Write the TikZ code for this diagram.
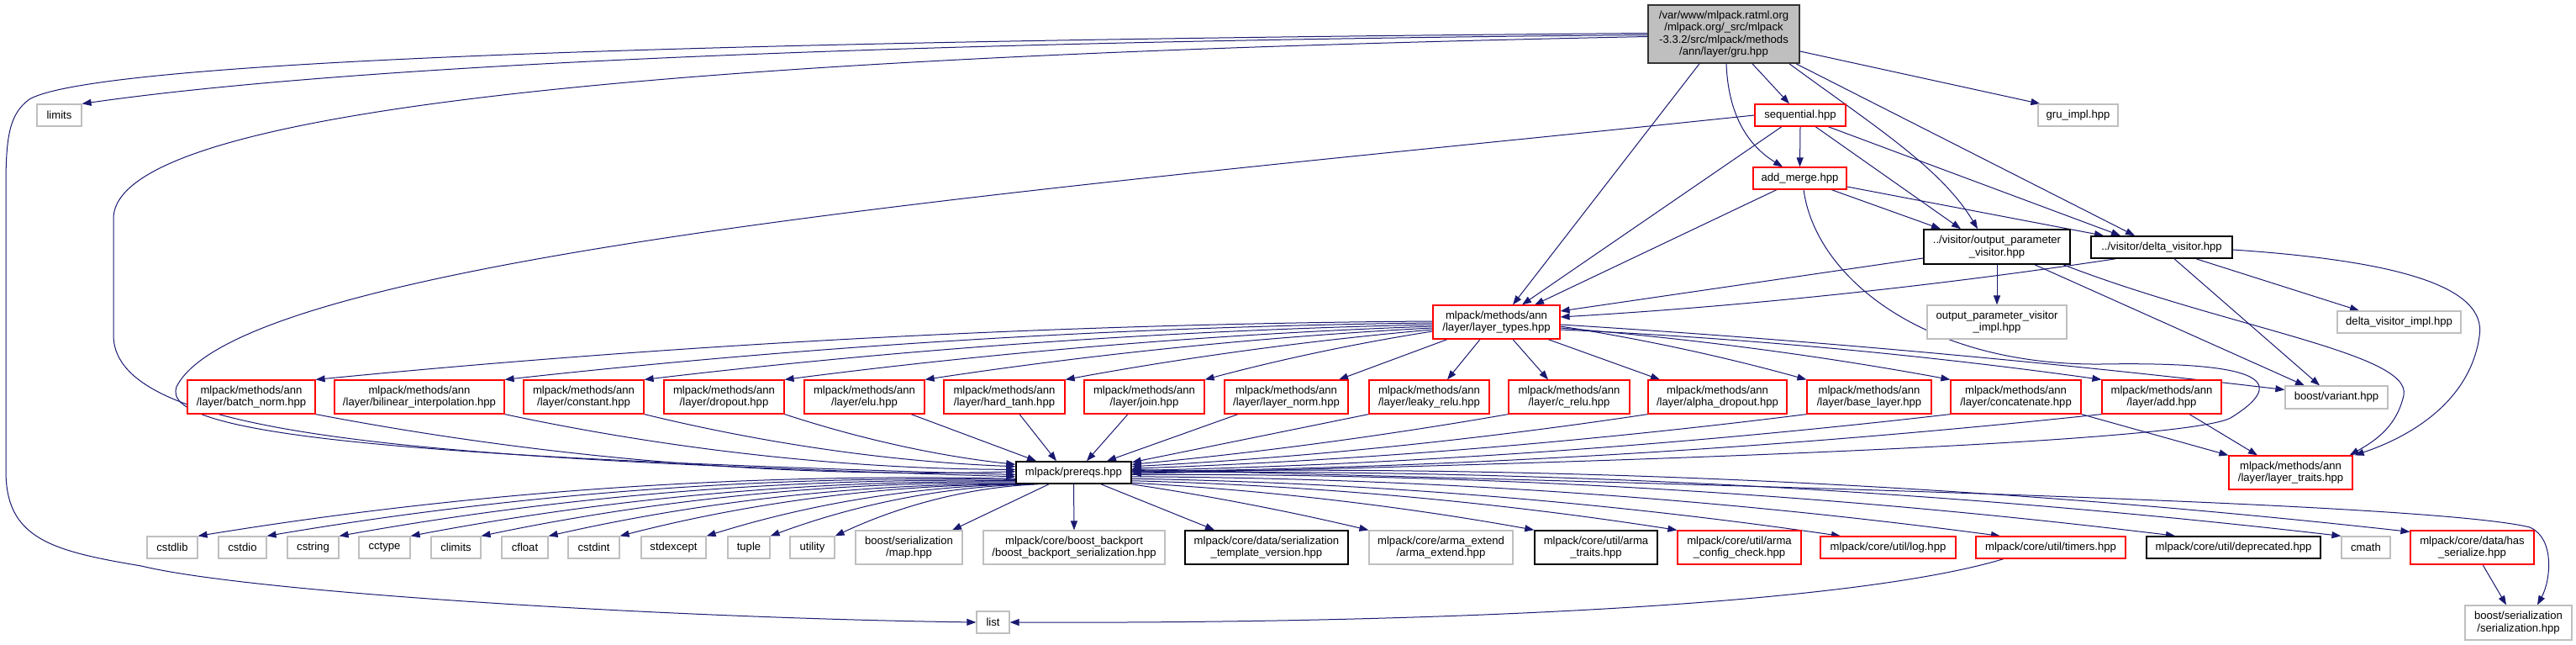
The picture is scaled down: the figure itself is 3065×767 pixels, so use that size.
\documentclass[tikz,border=0pt]{standalone}
\usepackage{fontspec}
\setmainfont{Liberation Sans}
\usetikzlibrary{arrows.meta,calc}
\definecolor{edgec}{HTML}{191970}
\definecolor{grayc}{HTML}{BFBFBF}
\pgfdeclarelayer{bg}
\pgfsetlayers{bg,main}
\newcommand\bx[7]{\node[#1, minimum width={#4-#3}, minimum height={#6-#5}] (#2) at ({(#3+#4)/2},{(#5+#6)/2}) {#7};}
% curved connector with vertical bulge #3 (px, positive = down)
\newcommand\bcurve[3]{\coordinate (tmpA) at (#1); \coordinate (tmpB) at (#2);
  \draw[dep] (tmpA) .. controls ($(tmpA)!0.33!(tmpB)+(0,#3)$) and ($(tmpA)!0.67!(tmpB)+(0,#3)$) .. (tmpB);}
\begin{document}
\begin{tikzpicture}[x=1pt,y=-1pt,
 nbase/.style={rectangle, line width=1.2pt, fill=white, font=\fontsize{13.1}{14.5}\selectfont, align=center, inner sep=0.5pt},
 redbox/.style={nbase, draw=red},
 blackbox/.style={nbase, draw=black, line width=1.6pt},
 graybox/.style={nbase, draw=grayc},
 rootbox/.style={nbase, draw=black!80, fill=grayc, line width=1.6pt},
 dep/.style={draw=edgec, line width=1pt, -{Triangle[length=11pt,width=8pt]}}]
\useasboundingbox (0,0) rectangle (3065,767);
% nodes
\bx{rootbox}{root}{1961}{2141}{6}{75}{/var/www/mlpack.ratml.org\\/mlpack.org/\_src/mlpack\\-3.3.2/src/mlpack/methods\\/ann/layer/gru.hpp}
\bx{graybox}{limits}{44}{97}{124}{150}{limits}
\bx{graybox}{gruimpl}{2425}{2520}{124}{150}{gru\_impl.hpp}
\bx{redbox}{seq}{2088}{2196}{124}{150}{sequential.hpp}
\bx{redbox}{addm}{2086}{2197}{199}{225}{add\_merge.hpp}
\bx{blackbox}{opv}{2289}{2463}{273}{314}{../visitor/output\_parameter\\\_visitor.hpp}
\bx{blackbox}{dv}{2488}{2656}{281}{307}{../visitor/delta\_visitor.hpp}
\bx{graybox}{opvi}{2293}{2459}{363}{403}{output\_parameter\_visitor\\\_impl.hpp}
\bx{graybox}{dvi}{2781}{2928}{370}{396}{delta\_visitor\_impl.hpp}
\bx{redbox}{lt}{1705}{1856}{363}{403}{mlpack/methods/ann\\/layer/layer\_types.hpp}
\bx{graybox}{var}{2719}{2841}{459}{486}{boost/variant.hpp}
\bx{redbox}{ltr}{2652}{2799}{542}{582}{mlpack/methods/ann\\/layer/layer\_traits.hpp}
\bx{redbox}{bn}{223}{375}{452}{492}{mlpack/methods/ann\\/layer/batch\_norm.hpp}
\bx{redbox}{bil}{398}{600}{452}{492}{mlpack/methods/ann\\/layer/bilinear\_interpolation.hpp}
\bx{redbox}{con}{623}{766}{452}{492}{mlpack/methods/ann\\/layer/constant.hpp}
\bx{redbox}{drop}{790}{933}{452}{492}{mlpack/methods/ann\\/layer/dropout.hpp}
\bx{redbox}{elu}{957}{1100}{452}{492}{mlpack/methods/ann\\/layer/elu.hpp}
\bx{redbox}{ht}{1123}{1267}{452}{492}{mlpack/methods/ann\\/layer/hard\_tanh.hpp}
\bx{redbox}{join}{1290}{1433}{452}{492}{mlpack/methods/ann\\/layer/join.hpp}
\bx{redbox}{ln}{1457}{1604}{452}{492}{mlpack/methods/ann\\/layer/layer\_norm.hpp}
\bx{redbox}{lr}{1629}{1772}{452}{492}{mlpack/methods/ann\\/layer/leaky\_relu.hpp}
\bx{redbox}{cr}{1795}{1939}{452}{492}{mlpack/methods/ann\\/layer/c\_relu.hpp}
\bx{redbox}{ad}{1961}{2126}{452}{492}{mlpack/methods/ann\\/layer/alpha\_dropout.hpp}
\bx{redbox}{bl}{2150}{2298}{452}{492}{mlpack/methods/ann\\/layer/base\_layer.hpp}
\bx{redbox}{cat}{2321}{2476}{452}{492}{mlpack/methods/ann\\/layer/concatenate.hpp}
\bx{redbox}{add}{2501}{2643}{452}{492}{mlpack/methods/ann\\/layer/add.hpp}
\bx{blackbox}{prereqs}{1209}{1346}{549}{575}{mlpack/prereqs.hpp}
\bx{graybox}{cstdlib}{175}{235}{638}{664}{cstdlib}
\bx{graybox}{cstdio}{260}{317}{638}{664}{cstdio}
\bx{graybox}{cstring}{342}{403}{638}{664}{cstring}
\bx{graybox}{cctype}{427}{488}{638}{664}{cctype}
\bx{graybox}{climits}{513}{572}{638}{664}{climits}
\bx{graybox}{cfloat}{597}{652}{638}{664}{cfloat}
\bx{graybox}{cstdint}{676}{737}{638}{664}{cstdint}
\bx{graybox}{stdexcept}{763}{840}{638}{664}{stdexcept}
\bx{graybox}{tuple}{866}{916}{638}{664}{tuple}
\bx{graybox}{utility}{940}{993}{638}{664}{utility}
\bx{graybox}{map}{1018}{1145}{631}{671}{boost/serialization\\/map.hpp}
\bx{graybox}{bbs}{1170}{1386}{631}{671}{mlpack/core/boost\_backport\\/boost\_backport\_serialization.hpp}
\bx{blackbox}{tv}{1410}{1604}{631}{671}{mlpack/core/data/serialization\\\_template\_version.hpp}
\bx{graybox}{ae}{1629}{1800}{631}{671}{mlpack/core/arma\_extend\\/arma\_extend.hpp}
\bx{blackbox}{at}{1826}{1972}{631}{671}{mlpack/core/util/arma\\\_traits.hpp}
\bx{redbox}{acc}{1996}{2143}{631}{671}{mlpack/core/util/arma\\\_config\_check.hpp}
\bx{redbox}{log}{2166}{2327}{638}{664}{mlpack/core/util/log.hpp}
\bx{redbox}{timers}{2351}{2529}{638}{664}{mlpack/core/util/timers.hpp}
\bx{blackbox}{depr}{2554}{2761}{638}{664}{mlpack/core/util/deprecated.hpp}
\bx{graybox}{cmath}{2786}{2844}{638}{664}{cmath}
\bx{redbox}{hs}{2868}{3015}{631}{671}{mlpack/core/data/has\\\_serialize.hpp}
\bx{graybox}{ser}{2933}{3060}{720}{761}{boost/serialization\\/serialization.hpp}
\bx{graybox}{list}{1162}{1201}{727}{753}{list}
% edges
\begin{pgfonlayer}{bg}
% root
\draw[dep] ([yshift=1pt]root.west) .. controls (900,48) and (120,70) .. (35,118) .. controls (12,135) and (7,160) .. (7,220) -- (7,560) .. controls (7,640) and (60,655) .. (168,673) .. controls (300,705) and (800,735) .. (list.west);
\draw[dep] ([yshift=-1pt]root.west) .. controls (1000,50) and (400,80) .. (limits.north east);
\draw[dep] ([yshift=-3pt]root.west) .. controls (900,65) and (135,120) .. (135,260) -- (135,400) .. controls (138,520) and (500,545) .. (prereqs.184);
\draw[dep] ([xshift=-29pt]root.south) -- ([xshift=19.5pt]lt.north);
\draw[dep] ([xshift=3pt]root.south) .. controls (2056,130) and (2075,170) .. ([xshift=-20.5pt]addm.north);
\draw[dep] ([xshift=34pt]root.south) -- ([xshift=-13pt]seq.north);
\draw[dep] ([xshift=78pt]root.south) .. controls (2230,150) and (2310,200) .. ([xshift=-23pt]opv.north);
\draw[dep] ([xshift=86pt]root.south) -- ([xshift=-32pt]dv.north);
\draw[dep] ([yshift=-20.5pt]root.east) -- ([xshift=3pt]gruimpl.north west);
% sequential
\draw[dep] (seq.south) -- (addm.north);
\draw[dep] ([xshift=-22pt]seq.south) -- ([xshift=30.5pt]lt.north);
\draw[dep] ([xshift=18pt]seq.south) -- ([xshift=-43pt]opv.north);
\draw[dep] ([xshift=33pt]seq.south) -- ([xshift=-49pt]dv.north);
\draw[dep] (seq.west) .. controls (1300,220) and (290,300) .. (210,460) .. controls (190,515) and (450,543) .. (prereqs.182);
% add_merge
\draw[dep] ([xshift=-27.5pt]addm.south) -- ([xshift=45.5pt]lt.north);
\draw[dep] ([xshift=37.5pt]addm.south) -- ([xshift=-67pt]opv.north);
\draw[dep] ([yshift=-10pt]addm.east) -- ([xshift=-69pt]dv.north);
\draw[dep] ([xshift=4.5pt]addm.south) .. controls (2160,330) and (2290,435) .. (2500,433) .. controls (2680,430) and (2730,450) .. (2654,497) .. controls (2600,525) and (2000,548) .. (prereqs.359);
% output_parameter_visitor
\draw[dep] ([yshift=-13.5pt]opv.west) -- ([yshift=13pt]lt.east);
\draw[dep] (opv.south) -- (opvi.north);
\draw[dep] ([xshift=45pt]opv.south) -- ([xshift=-38pt]var.north);
\draw[dep] ([xshift=79pt]opv.south) .. controls (2650,390) and (2870,420) .. (2860,470) .. controls (2852,505) and (2830,522) .. ([xshift=-4pt]ltr.north east);
% delta_visitor
\bcurve{[xshift=-55pt]dv.south}{[yshift=6pt]lt.east}{10}
\draw[dep] ([xshift=41pt]dv.south) -- ([xshift=-47.5pt]dvi.north);
\draw[dep] ([xshift=15pt]dv.south) -- ([xshift=-20pt]var.north);
\draw[dep] ([yshift=-3pt]dv.east) .. controls (2850,310) and (2960,340) .. (2950,400) .. controls (2940,470) and (2880,515) .. ([xshift=2pt]ltr.north east);
% layer_types
\bcurve{[yshift=1pt]lt.west}{bn.north east}{-20}
\bcurve{[yshift=-1pt]lt.west}{bil.north east}{-18}
\bcurve{[yshift=-3pt]lt.west}{con.north east}{-15}
\bcurve{[yshift=-5pt]lt.west}{drop.north east}{-12}
\bcurve{[yshift=-7pt]lt.west}{elu.north east}{-10}
\bcurve{[yshift=-9pt]lt.west}{ht.north east}{-7}
\bcurve{[yshift=-11pt]lt.west}{join.north east}{-5}
\draw[dep] ([xshift=-58.5pt]lt.south) -- ([xshift=62.5pt]ln.north);
\draw[dep] ([xshift=-19.5pt]lt.south) -- ([xshift=21.5pt]lr.north);
\draw[dep] ([xshift=19.5pt]lt.south) -- ([xshift=-25pt]cr.north);
\draw[dep] ([xshift=61.5pt]lt.south) -- ([xshift=-68.5pt]ad.north);
\bcurve{[yshift=-5pt]lt.east}{bl.north west}{-6}
\bcurve{[yshift=-7pt]lt.east}{cat.north west}{-8}
\bcurve{[yshift=-9pt]lt.east}{add.north west}{-10}
\bcurve{[yshift=-3pt]lt.east}{[yshift=9pt]var.west}{-8}
% layers to prereqs
\bcurve{bn.south east}{prereqs.179}{30}
\bcurve{bil.south east}{prereqs.177}{21}
\bcurve{con.south east}{prereqs.174}{15}
\bcurve{drop.south east}{prereqs.172}{10}
\draw[dep] ([xshift=55.5pt]elu.south) -- ([xshift=-44.5pt]prereqs.north);
\draw[dep] ([xshift=18pt]ht.south) -- ([xshift=-20.5pt]prereqs.north);
\draw[dep] ([xshift=-19.5pt]join.south) -- ([xshift=15.5pt]prereqs.north);
\draw[dep] ([xshift=-57.5pt]ln.south) -- ([xshift=39.5pt]prereqs.north);
\draw[dep] (lr.south west) -- (prereqs.10);
\bcurve{cr.south west}{prereqs.8}{6}
\bcurve{ad.south west}{prereqs.6}{10}
\bcurve{bl.south west}{prereqs.4}{12}
\bcurve{cat.south west}{prereqs.2}{15}
\bcurve{add.south west}{prereqs.1}{18}
\draw[dep] (cat.south east) -- (ltr.north west);
\draw[dep] ([xshift=33pt]add.south) -- ([xshift=-39.5pt]ltr.north);
% prereqs out
\bcurve{prereqs.186}{cstdlib.north east}{-30}
\bcurve{prereqs.187}{cstdio.north east}{-28}
\bcurve{prereqs.188}{cstring.north east}{-26}
\bcurve{prereqs.189}{cctype.north east}{-24}
\bcurve{prereqs.190}{climits.north east}{-23}
\bcurve{prereqs.191}{cfloat.north east}{-21}
\bcurve{prereqs.192}{cstdint.north east}{-20}
\bcurve{prereqs.194}{stdexcept.north east}{-19}
\bcurve{prereqs.196}{tuple.north east}{-18}
\bcurve{prereqs.198}{utility.north east}{-17}
\draw[dep] ([xshift=-29.5pt]prereqs.south) -- ([xshift=51.5pt]map.north);
\draw[dep] (prereqs.south) -- (bbs.north);
\draw[dep] ([xshift=32.5pt]prereqs.south) -- ([xshift=-62pt]tv.north);
\bcurve{prereqs.south east}{ae.north west}{-4}
\bcurve{prereqs.350}{at.north west}{-10}
\bcurve{prereqs.352}{acc.north west}{-14}
\bcurve{prereqs.354}{[xshift=-56.5pt]log.north}{-18}
\bcurve{prereqs.356}{[xshift=-60pt]timers.north}{-22}
\bcurve{prereqs.358}{[xshift=-69.5pt]depr.north}{-26}
\bcurve{prereqs.0}{cmath.north west}{-30}
\bcurve{prereqs.1}{[yshift=-2pt]hs.north west}{-32}
\draw[dep] (prereqs.3) .. controls (2200,580) and (2900,600) .. (3010,627) .. controls (3040,640) and (3035,690) .. ([xshift=22.5pt]ser.north);
\draw[dep] ([xshift=12.5pt]hs.south) -- ([xshift=-14.5pt]ser.north);
\draw[dep] ([xshift=-56pt]timers.south) .. controls (2200,720) and (1700,742) .. (list.east);
\end{pgfonlayer}
\end{tikzpicture}
\end{document}
